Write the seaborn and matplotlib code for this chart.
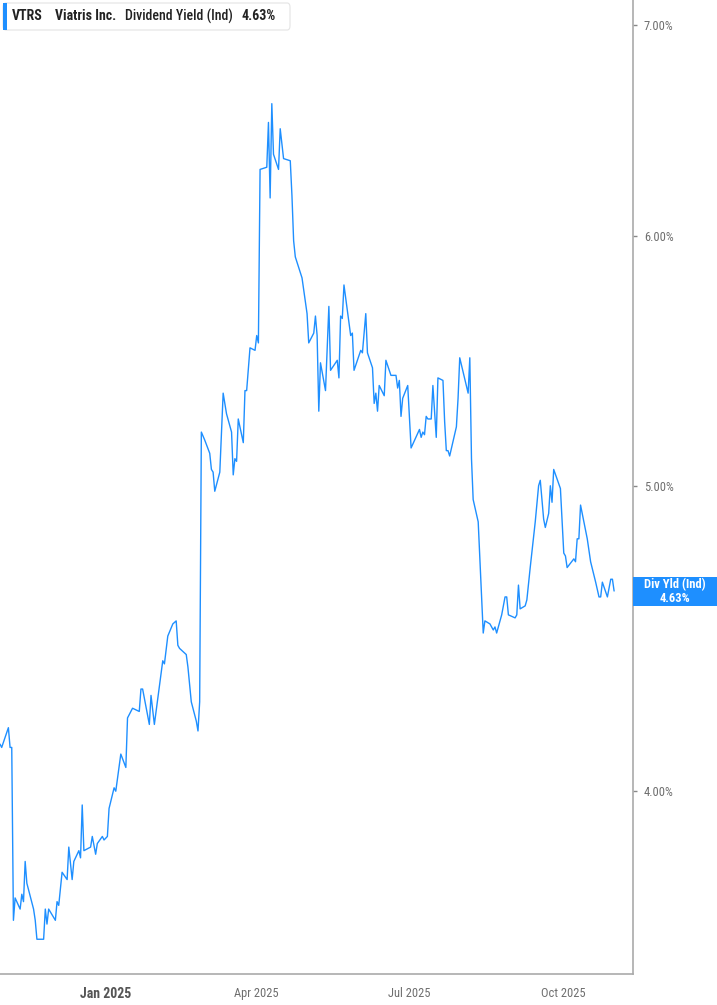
import pandas as pd
import seaborn as sns
import matplotlib.pyplot as plt
from matplotlib import font_manager
from matplotlib.patches import Rectangle, FancyBboxPatch

# Viatris (VTRS) indicated dividend yield, %
dates = [
    "2024-10-30", "2024-10-31", "2024-11-04", "2024-11-05", "2024-11-06", "2024-11-07",
    "2024-11-08", "2024-11-11", "2024-11-12", "2024-11-13", "2024-11-14", "2024-11-15",
    "2024-11-19", "2024-11-20", "2024-11-21", "2024-11-25", "2024-11-26", "2024-11-27",
    "2024-11-28", "2024-12-02", "2024-12-03", "2024-12-04", "2024-12-06", "2024-12-09",
    "2024-12-10", "2024-12-12", "2024-12-13", "2024-12-16", "2024-12-17", "2024-12-18",
    "2024-12-19", "2024-12-23", "2024-12-24", "2024-12-26", "2024-12-27", "2024-12-30",
    "2024-12-31", "2025-01-02", "2025-01-03", "2025-01-06", "2025-01-07", "2025-01-10",
    "2025-01-13", "2025-01-14", "2025-01-17", "2025-01-21", "2025-01-22", "2025-01-23",
    "2025-01-27", "2025-01-28", "2025-01-30", "2025-02-04", "2025-02-05", "2025-02-07",
    "2025-02-10", "2025-02-12", "2025-02-13", "2025-02-14", "2025-02-18", "2025-02-19",
    "2025-02-21", "2025-02-24", "2025-02-25", "2025-02-26", "2025-02-27", "2025-03-01",
    "2025-03-04", "2025-03-05", "2025-03-06", "2025-03-07", "2025-03-10", "2025-03-11",
    "2025-03-12", "2025-03-14", "2025-03-17", "2025-03-18", "2025-03-19", "2025-03-20",
    "2025-03-21", "2025-03-24", "2025-03-25", "2025-03-26", "2025-03-28", "2025-03-31",
    "2025-04-01", "2025-04-02", "2025-04-03", "2025-04-07", "2025-04-08", "2025-04-09",
    "2025-04-10", "2025-04-11", "2025-04-14", "2025-04-15", "2025-04-17", "2025-04-21",
    "2025-04-22", "2025-04-23", "2025-04-24", "2025-04-28", "2025-05-01", "2025-05-02",
    "2025-05-05", "2025-05-06", "2025-05-07", "2025-05-08", "2025-05-09", "2025-05-12",
    "2025-05-14", "2025-05-15", "2025-05-19", "2025-05-20", "2025-05-21", "2025-05-22",
    "2025-05-23", "2025-05-27", "2025-05-28", "2025-05-29", "2025-06-02", "2025-06-03",
    "2025-06-05", "2025-06-06", "2025-06-09", "2025-06-10", "2025-06-11", "2025-06-12",
    "2025-06-13", "2025-06-16", "2025-06-17", "2025-06-20", "2025-06-23", "2025-06-24",
    "2025-06-25", "2025-06-26", "2025-06-27", "2025-06-30", "2025-07-02", "2025-07-07",
    "2025-07-08", "2025-07-09", "2025-07-10", "2025-07-11", "2025-07-12", "2025-07-14",
    "2025-07-15", "2025-07-17", "2025-07-18", "2025-07-21", "2025-07-22", "2025-07-23",
    "2025-07-24", "2025-07-25", "2025-07-29", "2025-07-30", "2025-07-31", "2025-08-05",
    "2025-08-06", "2025-08-07", "2025-08-08", "2025-08-11", "2025-08-14", "2025-08-15",
    "2025-08-18", "2025-08-20", "2025-08-21", "2025-08-22", "2025-08-25", "2025-08-27",
    "2025-08-28", "2025-08-29", "2025-09-02", "2025-09-03", "2025-09-04", "2025-09-05",
    "2025-09-08", "2025-09-09", "2025-09-11", "2025-09-14", "2025-09-16", "2025-09-17",
    "2025-09-19", "2025-09-20", "2025-09-22", "2025-09-23", "2025-09-24", "2025-09-25",
    "2025-09-29", "2025-10-01", "2025-10-02", "2025-10-03", "2025-10-07", "2025-10-08",
    "2025-10-09", "2025-10-10", "2025-10-11", "2025-10-13", "2025-10-15", "2025-10-17",
    "2025-10-20", "2025-10-22", "2025-10-23", "2025-10-24", "2025-10-27", "2025-10-29",
    "2025-10-30", "2025-10-31",
]
div_yield = [
    4.14, 4.13, 4.19, 4.13, 4.13, 3.64,
    3.70, 3.67, 3.71, 3.69, 3.80, 3.74,
    3.67, 3.64, 3.59, 3.59, 3.67, 3.63,
    3.67, 3.64, 3.69, 3.68, 3.77, 3.75,
    3.84, 3.75, 3.80, 3.83, 3.81, 3.96,
    3.83, 3.84, 3.87, 3.82, 3.85, 3.87,
    3.86, 3.87, 3.95, 4.01, 4.00, 4.11,
    4.07, 4.22, 4.25, 4.24, 4.31, 4.31,
    4.20, 4.29, 4.20, 4.40, 4.39, 4.48,
    4.52, 4.53, 4.45, 4.44, 4.42, 4.38,
    4.27, 4.21, 4.18, 4.27, 5.20, 5.17,
    5.12, 5.06, 5.05, 4.98, 5.05, 5.20,
    5.35, 5.27, 5.20, 5.04, 5.10, 5.09,
    5.25, 5.16, 5.36, 5.36, 5.53, 5.52,
    5.58, 5.55, 6.30, 6.31, 6.52, 6.17,
    6.61, 6.37, 6.30, 6.49, 6.35, 6.34,
    6.18, 5.98, 5.91, 5.82, 5.67, 5.55,
    5.59, 5.66, 5.58, 5.28, 5.47, 5.36,
    5.70, 5.44, 5.48, 5.41, 5.66, 5.65,
    5.79, 5.58, 5.59, 5.44, 5.52, 5.51,
    5.67, 5.51, 5.45, 5.31, 5.35, 5.28,
    5.38, 5.34, 5.48, 5.42, 5.42, 5.37,
    5.40, 5.26, 5.33, 5.38, 5.14, 5.21,
    5.18, 5.20, 5.19, 5.26, 5.25, 5.25,
    5.38, 5.18, 5.41, 5.40, 5.24, 5.13,
    5.13, 5.11, 5.22, 5.33, 5.49, 5.35,
    5.49, 5.10, 4.95, 4.87, 4.49, 4.53,
    4.52, 4.50, 4.51, 4.49, 4.55, 4.61,
    4.61, 4.55, 4.54, 4.55, 4.65, 4.57,
    4.58, 4.60, 4.71, 4.87, 5.00, 5.02,
    4.88, 4.85, 4.90, 5.00, 4.94, 5.06,
    4.99, 4.76, 4.75, 4.71, 4.74, 4.73,
    4.81, 4.81, 4.93, 4.87, 4.81, 4.73,
    4.66, 4.61, 4.61, 4.66, 4.61, 4.67,
    4.67, 4.63,
]
y_ticks = [4, 5, 6, 7]
y_labels = ["4.00%", "5.00%", "6.00%", "7.00%"]
x_ticks = ["2025-01-01", "2025-04-01", "2025-07-01", "2025-10-01"]
x_labels = ["Jan 2025", "Apr 2025", "Jul 2025", "Oct 2025"]

LINE = "#1e8fff"
GREY = "#6e6e6e"
W, H = 717, 1005

df = pd.DataFrame({"date": pd.to_datetime(dates), "yield": div_yield})

sns.set_style("white")
names = {f.name for f in font_manager.fontManager.ttflist}
font = "Roboto"
for cand in ["Liberation Sans Narrow", "Roboto Condensed", "Roboto"]:
    if cand in names:
        font = cand
        break
plt.rcParams["font.family"] = [font, "DejaVu Sans"]

fig = plt.figure(figsize=(W / 100, H / 100), dpi=100)
ax = fig.add_axes([0, 1 - 974 / H, 632.7 / W, 974 / H])

sns.lineplot(data=df, x="date", y="yield", ax=ax, color=LINE, linewidth=1.0)

ax.set_yscale("log")
ax.set_ylim(3.50, 7.13)
ax.set_xlim(pd.Timestamp("2024-10-30"), pd.Timestamp("2025-11-11 02:00"))
ax.set_yticks(y_ticks)
ax.set_yticklabels(y_labels)
ax.yaxis.set_minor_locator(plt.NullLocator())
ax.yaxis.tick_right()
ax.set_xticks(pd.to_datetime(x_ticks))
ax.set_xticklabels(x_labels)
ax.set_xlabel("")
ax.set_ylabel("")

for side in ["top", "left"]:
    ax.spines[side].set_visible(False)
for side in ["bottom", "right"]:
    ax.spines[side].set_color("#aaaaaa")
    ax.spines[side].set_linewidth(1.2)

ax.tick_params(axis="y", direction="out", length=3, width=1, color="#888888",
               labelsize=9, labelcolor=GREY, pad=5)
ax.tick_params(axis="x", direction="out", length=4, width=1, color="#888888",
               labelsize=9, labelcolor=GREY, pad=5)
lbls = ax.get_xticklabels()
lbls[0].set_fontweight("bold")
lbls[0].set_color("#555555")
lbls[0].set_fontsize(10)


def px(x, y):
    return x / W, 1 - y / H


# header box
hx, hy = px(3, 30)
fig.patches.append(FancyBboxPatch((hx, hy), 287 / W, 27 / H,
                                  boxstyle="round,pad=0,rounding_size=0.004",
                                  transform=fig.transFigure, facecolor="white",
                                  edgecolor="#e4e4e4", linewidth=0.8))
fig.patches.append(Rectangle((hx, hy), 4 / W, 27 / H, transform=fig.transFigure,
                             facecolor=LINE, edgecolor="none"))
head = [(12, "VTRS", "bold"), (55, "Viatris Inc.", "bold"),
        (125, "Dividend Yield (Ind)", "medium"), (242, "4.63%", "bold")]
for x, txt, wt in head:
    tx, ty = px(x, 16.5)
    fig.text(tx, ty, txt, fontsize=10, fontweight=wt, color="#222222", va="center", ha="left")

# last value label on the right axis
fig.canvas.draw()
last = div_yield[-1]
yc = ax.transData.transform((0, last))[1] / fig.bbox.height
fig.patches.append(Rectangle((633 / W, yc - 14.5 / H), 84 / W, 29 / H, transform=fig.transFigure,
                             facecolor=LINE, edgecolor="none"))
fig.text(675 / W, yc + 6 / H, "Div Yld (Ind)", fontsize=9, fontweight="bold",
         color="white", ha="center", va="center")
fig.text(675 / W, yc - 7 / H, f"{last:.2f}%", fontsize=9, fontweight="bold",
         color="white", ha="center", va="center")

fig.savefig("out.png", dpi=100)
